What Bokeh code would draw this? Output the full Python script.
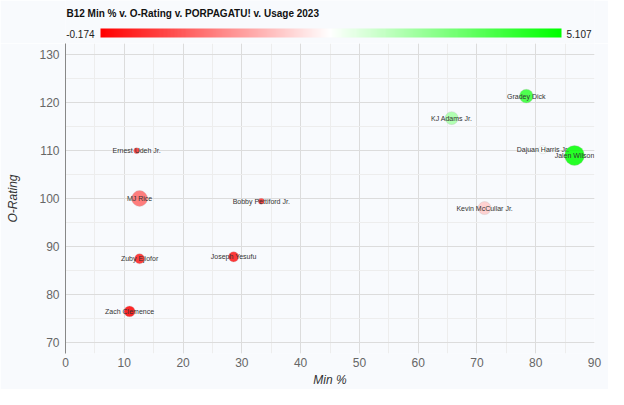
import numpy as np
from bokeh.plotting import figure
from bokeh.models import (ColumnDataSource, LinearColorMapper, LinearInterpolator,
                          Range1d, SingleIntervalTicker, Label)
from bokeh.layouts import column
from bokeh.core.properties import value
from bokeh.transform import transform
from bokeh.embed import file_html
from bokeh.resources import INLINE

# data
players = ["Ernest Udeh Jr.", "MJ Rice", "Bobby Pettiford Jr.", "Zuby Ejiofor",
           "Joseph Yesufu", "Zach Clemence", "Gradey Dick", "KJ Adams Jr.",
           "Dajuan Harris Jr.", "Jalen Wilson", "Kevin McCullar Jr."]
min_pct = [12.1, 12.6, 33.3, 12.6, 28.6, 10.9, 78.4, 65.7, 81.2, 86.6, 71.3]
o_rating = [110.0, 100.0, 99.4, 87.4, 87.8, 76.4, 121.4, 116.8, 110.2, 109.0, 98.0]
porpagatu = [0.25, 0.9, 0.2, 0.1, 0.05, -0.174, 4.6, 3.4, 2.5, 5.107, 1.9]
usage = [11.5, 23.5, 11.5, 16.5, 16.5, 17.5, 21.0, 20.0, 14.0, 28.5, 20.0]

title_text = "B12 Min % v. O-Rating v. PORPAGATU! v. Usage 2023"
bg = "#f8fafd"
font = "Liberation Sans"

# red -> white -> green palette
def ramp(c1, c2, n):
    out = []
    for t in np.linspace(0, 1, n):
        r, g, b = [int(round(a + (bb - a) * t)) for a, bb in zip(c1, c2)]
        out.append("#%02x%02x%02x" % (r, g, b))
    return out

palette = ramp((255, 0, 0), (255, 255, 255), 128) + ramp((255, 255, 255), (0, 255, 0), 128)[1:]
lo, hi = min(porpagatu), max(porpagatu)
mapper = LinearColorMapper(palette=palette, low=lo, high=hi)

# header: title + colour scale (pixel coordinates)
head = figure(width=608, height=43, x_range=(65, 594), y_range=(43, 0),
              toolbar_location=None, output_backend="svg",
              min_border_left=65, min_border_right=14, min_border_top=0, min_border_bottom=0)
head.axis.visible = False
head.grid.grid_line_color = None
head.outline_line_color = None
head.background_fill_color = bg
head.border_fill_color = bg

head.image(image=[np.linspace(lo, hi, 256)[None, :]], x=100, y=28, dw=461, dh=9,
           color_mapper=mapper)
head.add_layout(Label(x=66, y=13, text=title_text, text_font=font, text_font_size="10px",
                      text_font_style="bold", text_baseline="middle", text_color="#111111"))
head.add_layout(Label(x=94, y=33, text="%.3f" % lo, text_font=font, text_font_size="10px",
                      text_align="right", text_baseline="middle", text_color="#222222"))
head.add_layout(Label(x=566, y=33, text="%.3f" % hi, text_font=font, text_font_size="10px",
                      text_align="left", text_baseline="middle", text_color="#222222"))

# main scatter
src = ColumnDataSource(dict(name=players, x=min_pct, y=o_rating, p=porpagatu, u=usage))

p = figure(width=608, height=346, x_range=Range1d(0, 90), y_range=Range1d(67.6, 132.4),
           toolbar_location=None, output_backend="svg",
           min_border_left=65, min_border_right=14, min_border_top=0, min_border_bottom=26,
           x_axis_label="Min %", y_axis_label="O-Rating")
p.background_fill_color = bg
p.border_fill_color = bg
p.outline_line_color = None

size_map = LinearInterpolator(x=[min(usage), max(usage)], y=[6, 20])
p.scatter("x", "y", source=src, size=transform("u", size_map),
          fill_color=transform("p", mapper), fill_alpha=0.85,
          line_color="#bbbbbb", line_alpha=0.5, line_width=0.6)
p.text("x", "y", text="name", source=src, text_font=value(font), text_font_size="7px",
       text_align="center", text_baseline="middle", text_color="#333333")

for ax in (p.xaxis, p.yaxis):
    ax.ticker = SingleIntervalTicker(interval=10, num_minor_ticks=2)
    ax.major_tick_out = 0
    ax.major_tick_in = 0
    ax.minor_tick_out = 0
    ax.minor_tick_in = 0
    ax.major_label_text_font = font
    ax.major_label_text_font_size = "12px"
    ax.major_label_text_color = "#666666"
    ax.axis_label_text_font = font
    ax.axis_label_text_font_size = "12px"
    ax.axis_label_text_font_style = "italic"
    ax.axis_label_text_color = "#333333"

p.xaxis.axis_line_color = None
p.xaxis.major_label_standoff = 4
p.xaxis.axis_label_standoff = 3
p.yaxis.axis_line_color = "#888888"
p.yaxis.major_label_standoff = 6
p.yaxis.axis_label_standoff = 16

p.grid.grid_line_color = "#dcdcdc"
p.grid.minor_grid_line_color = "#ededed"

layout = column(head, p)
open("out.html", "w").write(file_html(layout, INLINE))
